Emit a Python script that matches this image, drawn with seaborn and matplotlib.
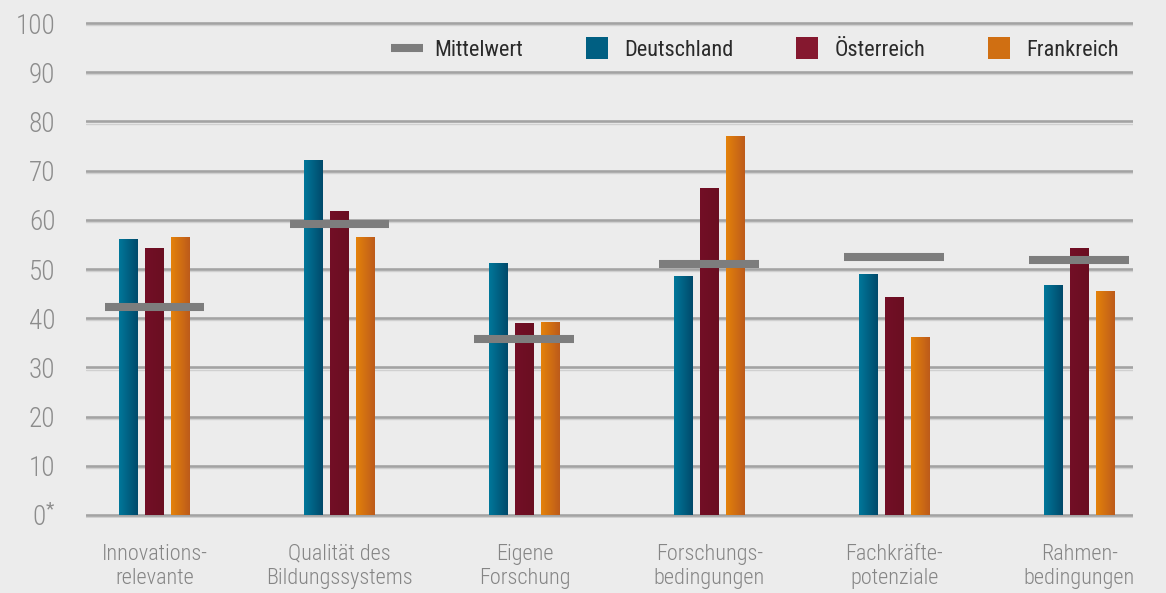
import numpy as np
import pandas as pd
import matplotlib
matplotlib.use("Agg")
import matplotlib.pyplot as plt
import seaborn as sns
from matplotlib import font_manager as fm
from matplotlib.colors import LinearSegmentedColormap
from matplotlib.lines import Line2D

#------------------------------ data ------------------------------#
categories = ["Innovations-\nrelevante", "Qualität des\nBildungssystems", "Eigene\nForschung",
              "Forschungs-\nbedingungen", "Fachkräfte-\npotenziale", "Rahmen-\nbedingungen"]
countries = ["Deutschland", "Österreich", "Frankreich"]
deutschland = [56.1, 72.2, 51.2, 48.6, 49.0, 46.7]
oesterreich = [54.3, 61.8, 39.0, 66.5, 44.3, 54.3]
frankreich = [56.5, 56.5, 39.2, 77.0, 36.2, 45.5]
mittelwert = [42.3, 59.1, 35.8, 51.0, 52.4, 51.8]
y_ticks = [0, 10, 20, 30, 40, 50, 60, 70, 80, 90, 100]
y_labels = ["0$^{*}$"] + [str(t) for t in y_ticks[1:]]

# gradient colours (left -> right) per country
grad = {"Deutschland": ("#00779a", "#004a6b"),
        "Österreich": ("#730f26", "#6a0e21"),
        "Frankreich": ("#e4820a", "#bd5b1b")}
mid = {"Deutschland": "#005f80", "Österreich": "#6e0f23", "Frankreich": "#d06f12"}


def pick_font(candidates):
    # first condensed family that is really there, else DejaVu
    for name in candidates:
        try:
            fm.findfont(fm.FontProperties(family=name), fallback_to_default=False)
            return name
        except Exception:
            pass
    return "DejaVu Sans"


font = pick_font(["Roboto Condensed", "Pathway Gothic One", "PT Sans Narrow",
                  "Archivo Narrow", "Liberation Sans Narrow"])

df = pd.DataFrame({
    "cat": categories * 3,
    "land": sum([[c] * len(categories) for c in countries], []),
    "wert": deutschland + oesterreich + frankreich,
})

bg = "#ececec"
sns.set_theme(style="white")
plt.rcParams["font.family"] = [font, "DejaVu Sans"]
plt.rcParams["mathtext.fontset"] = "custom"
plt.rcParams["mathtext.rm"] = font

fig = plt.figure(figsize=(11.66, 5.93), dpi=100, facecolor=bg)
ax = fig.add_axes([0.0738, 0.1273, 0.8979, 0.8422], facecolor=bg)

sns.barplot(data=df, x="cat", y="wert", hue="land", hue_order=countries,
            palette=mid, width=0.42, gap=0.27, ax=ax, legend=False,
            saturation=1, linewidth=0, zorder=3)

# horizontal gradient on each bar
for cont, land in zip(ax.containers, countries):
    cmap = LinearSegmentedColormap.from_list(land, grad[land])
    for p in cont:
        x0, y0 = p.get_x(), p.get_y()
        w, h = p.get_width(), p.get_height()
        im = ax.imshow(np.linspace(0, 1, 64).reshape(1, -1), cmap=cmap, aspect="auto",
                       extent=[x0, x0 + w, y0, y0 + h], zorder=3.5, interpolation="bilinear")
        im.set_clip_path(p)

# mean markers
xs = np.arange(len(categories))
ax.hlines(mittelwert, xs - 0.27, xs + 0.27, colors="#7d7d7d", linewidth=5.8, zorder=5)

# gridlines (with a faint light line underneath like the original)
for t in y_ticks:
    ax.axhline(t, color="#a3a3a3", linewidth=1.9, zorder=1)
    ax.axhline(t - 0.45, color="#d0d0d0", linewidth=1.0, zorder=0.9)

ax.set_xlim(-0.37, 5.29)
ax.set_ylim(-0.5, 101)
ax.set_yticks(y_ticks)
ax.set_yticklabels(y_labels)
ax.tick_params(axis="y", length=0, pad=22, labelsize=19.5, labelcolor="#8c8c8c")
ax.tick_params(axis="x", length=0, pad=19, labelsize=16, labelcolor="#858585")
for lab in ax.get_yticklabels() + ax.get_xticklabels():
    lab.set_fontweight("light")
ax.set_xlabel("")
ax.set_ylabel("")
sns.despine(ax=ax, left=True, bottom=True)

handles = [Line2D([0], [0], color="#7d7d7d", linewidth=5.8, solid_capstyle="butt"),
           Line2D([0], [0], linestyle="none", marker="s", markersize=16, markeredgewidth=0,
                  markerfacecolor="#005f82"),
           Line2D([0], [0], linestyle="none", marker="s", markersize=16, markeredgewidth=0,
                  markerfacecolor="#85182f"),
           Line2D([0], [0], linestyle="none", marker="s", markersize=16, markeredgewidth=0,
                  markerfacecolor="#d06f12")]
labels = ["Mittelwert", "Deutschland", "Österreich", "Frankreich"]
ax.legend(handles, labels, ncol=4, frameon=False, loc="center left",
          bbox_to_anchor=(0.2805, 0.935), fontsize=16, labelcolor="#2a2a2a",
          columnspacing=2.6, handlelength=1.45, handletextpad=0.5, borderpad=0)

fig.savefig("out.png", dpi=100, facecolor=bg)
